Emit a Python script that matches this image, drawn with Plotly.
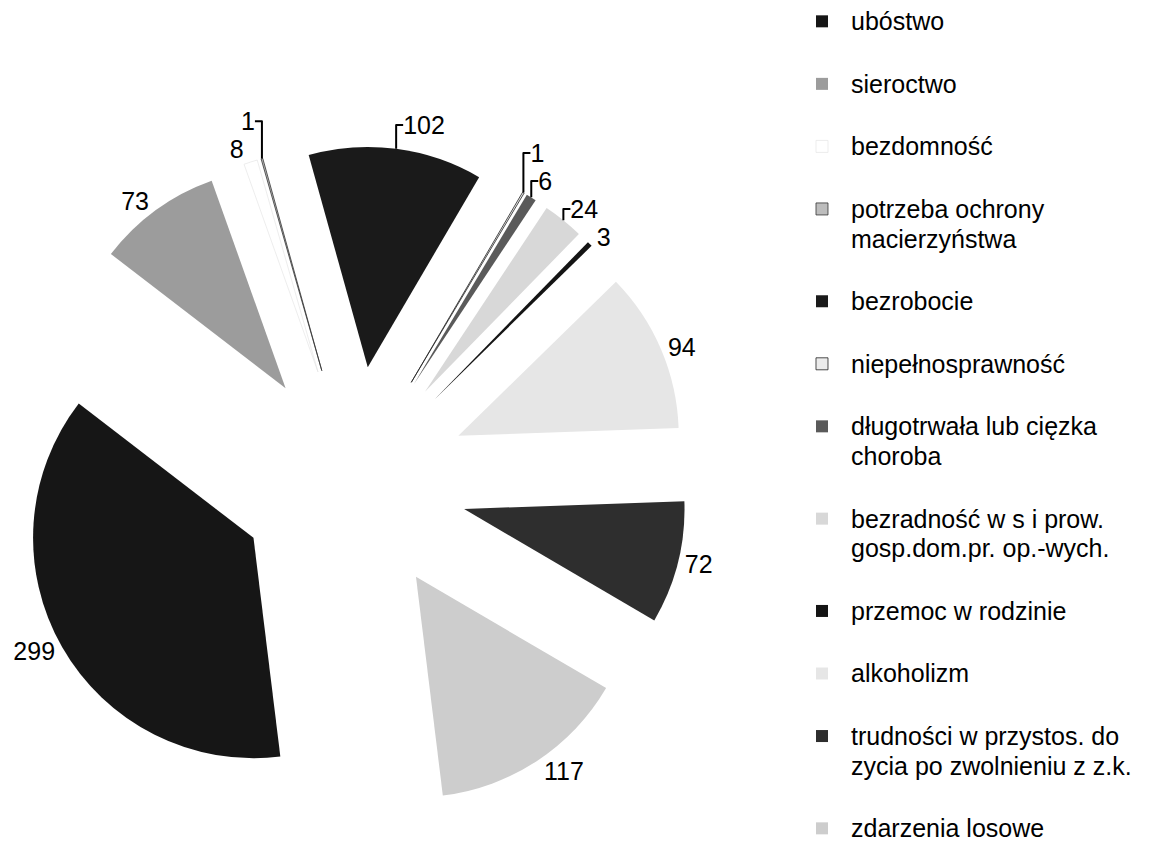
import plotly.graph_objects as go

categories = [
    "ubóstwo",
    "sieroctwo",
    "bezdomność",
    "potrzeba ochrony<br>macierzyństwa",
    "bezrobocie",
    "niepełnosprawność",
    "długotrwała lub cięzka<br>choroba",
    "bezradność w s i prow.<br>gosp.dom.pr. op.-wych.",
    "przemoc w rodzinie",
    "alkoholizm",
    "trudności w przystos. do<br>zycia po zwolnieniu z z.k.",
    "zdarzenia losowe",
]
values = [299, 73, 8, 1, 102, 1, 6, 24, 3, 94, 72, 117]

colors = ["#161616", "#9c9c9c", "#ffffff", "#bdbdbd", "#1a1a1a", "#ececec",
          "#5a5a5a", "#d8d8d8", "#141414", "#e6e6e6", "#2e2e2e", "#cdcdcd"]
line_colors = ["#161616", "#9c9c9c", "#e0e0e0", "#333333", "#1a1a1a", "#222222",
               "#5a5a5a", "#d8d8d8", "#141414", "#e6e6e6", "#2e2e2e", "#cdcdcd"]
line_widths = [0, 0, 0.6, 0.8, 0, 0.8, 0, 0, 0, 0, 0, 0]


def legend_text(label, last=False):
    lines = label.split("<br>")
    body = "<br>".join('<span style="font-size:25px">%s</span>' % ln for ln in lines)
    return body if last else body + "<br>\u00a0"


legend_labels = [legend_text(c, i == len(categories) - 1) for i, c in enumerate(categories)]

W, H = 1149, 848
cx, cy, half = 345, 473, 335

fig = go.Figure(go.Pie(
    labels=legend_labels,
    values=values,
    sort=False,
    direction="clockwise",
    rotation=173,
    pull=0.52,
    textinfo="value",
    textposition="outside",
    textfont=dict(size=25, color="black", family="Liberation Sans, Arial"),
    marker=dict(colors=colors, line=dict(color=line_colors, width=line_widths)),
    domain=dict(x=[(cx - half) / W, (cx + half) / W],
                y=[1 - (cy + half) / H, 1 - (cy - half) / H]),
    showlegend=True,
))

fig.update_layout(
    width=W, height=H,
    margin=dict(l=0, r=0, t=0, b=0, autoexpand=False),
    paper_bgcolor="white",
    plot_bgcolor="white",
    font=dict(family="Liberation Sans, Arial", color="black"),
    legend=dict(
        x=0.6832, xanchor="left", y=1.0095, yanchor="top",
        font=dict(size=22.9, color="black", family="Liberation Sans, Arial"),
        valign="top",
        itemwidth=48,
        maxheight=1200,
        bgcolor="rgba(0,0,0,0)",
    ),
)

fig.write_html("out.html")
